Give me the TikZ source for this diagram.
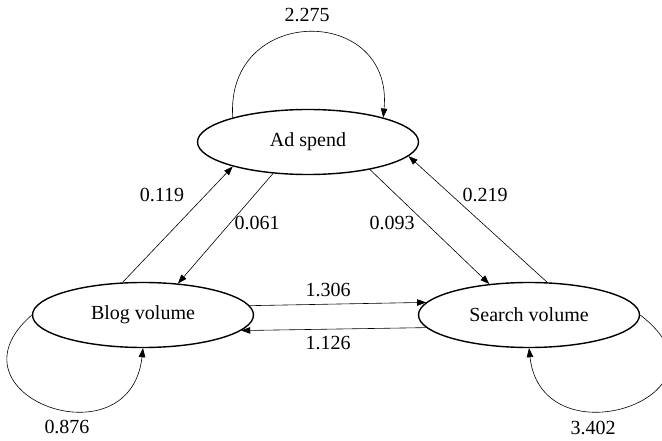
\documentclass[tikz,border=0pt]{standalone}
\usepackage{fontspec}
\setmainfont{Liberation Serif}
\usetikzlibrary{arrows.meta,shapes.geometric}

\tikzset{
  state/.style={ellipse, draw, line width=1.4pt, minimum width=221pt, minimum height=65pt, inner sep=0pt,
    font=\fontsize{20}{24}\selectfont},
  weight/.style={font=\fontsize{20}{24}\selectfont, inner sep=0pt},
  link/.style={line width=0.6pt, -{Triangle[length=9pt,width=6.5pt]}},
}

\begin{document}
\begin{tikzpicture}[x=1pt,y=-1pt]
\useasboundingbox (0,0) rectangle (662,441);

% the three variables
\node[state] (ad)     at (308,142) {Ad spend};
\node[state] (blog)   at (143,315) {Blog volume};
\node[state] (search) at (529,315) {Search volume};

% self loops
\draw[link] (ad.162) .. controls (225,4) and (394,4) .. (ad.18);
\draw[link] (blog.180) .. controls (-60,395) and (130,465) .. (blog.270);
\draw[link] (search.0) .. controls (745,395) and (542,465) .. (search.270);

% cross effects
\draw[link] (blog.122) -- (ad.198);
\draw[link] (ad.222) -- (blog.42);
\draw[link] (ad.336) -- (search.142);
\draw[link] (search.61) -- (ad.352);
\draw[link] (blog.5) -- (search.173);
\draw[link] (search.187) -- (blog.351);

% coefficients
\node[weight] (w-aa) at (307,15)  {2.275};
\node[weight] (w-bb) at (67,427)  {0.876};
\node[weight] (w-ss) at (593,428) {3.402};
\node[weight] (w-ba) at (162,195) {0.119};
\node[weight] (w-ab) at (257,223) {0.061};
\node[weight] (w-as) at (392,223) {0.093};
\node[weight] (w-sa) at (485,195) {0.219};
\node[weight] (w-bs) at (328,290) {1.306};
\node[weight] (w-sb) at (328,343) {1.126};
\end{tikzpicture}
\end{document}
